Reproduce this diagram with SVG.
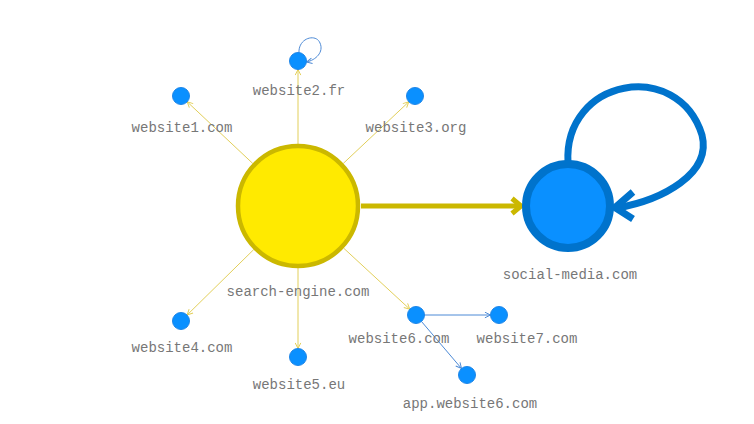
<svg xmlns="http://www.w3.org/2000/svg" width="754" height="424" viewBox="0 0 754 424">
<defs>
<style>
.lbl{font-family:"Liberation Mono","DejaVu Sans Mono",monospace;font-size:14px;fill:#777777;text-anchor:middle}
.small{fill:#0a90ff;stroke:#1f86e8;stroke-width:1}
.ye{stroke:#e2cf5a;stroke-width:1;fill:none;marker-end:url(#ay)}
.be{stroke:#4d8ad6;stroke-width:1;fill:none;marker-end:url(#ab)}
</style>
<marker id="ay" markerUnits="userSpaceOnUse" viewBox="0 0 10 10" refX="9" refY="5" markerWidth="7" markerHeight="7" orient="auto"><path d="M1,1 L9,5 L1,9" fill="none" stroke="#e2cf5a" stroke-width="1.4"/></marker>
<marker id="ab" markerUnits="userSpaceOnUse" viewBox="0 0 10 10" refX="9" refY="5" markerWidth="7" markerHeight="7" orient="auto"><path d="M1,1 L9,5 L1,9" fill="none" stroke="#4d8ad6" stroke-width="1.4"/></marker>
</defs>
<rect width="754" height="424" fill="#ffffff"/>
<g id="connectors">
<line class="ye" x1="252.8" y1="163.5" x2="187.2" y2="101.8"/>
<line class="ye" x1="298" y1="144" x2="298" y2="69.5"/>
<line class="ye" x1="343.2" y1="163.5" x2="408.8" y2="101.8"/>
<line class="ye" x1="253.8" y1="249.5" x2="187.1" y2="315"/>
<line class="ye" x1="298" y1="268" x2="298" y2="348.5"/>
<line class="ye" x1="343.6" y1="248.1" x2="409.8" y2="309.2"/>
<line class="be" x1="424.5" y1="315" x2="490.5" y2="315"/>
<line class="be" x1="421.5" y1="321.5" x2="461.5" y2="368.5"/>
<path class="be" d="M299,53 C298,38 316,33 320,43 C324,52 316,60 306.5,62"/>
<line x1="361" y1="206" x2="520" y2="206" stroke="#cbb800" stroke-width="5"/>
<path d="M512,198.5 L521,206 L512,213.5" fill="none" stroke="#cbb800" stroke-width="5"/>
<path d="M568,163 C563,78 678,58 702,135 C712,174 662,200 617,208" fill="none" stroke="#0073cc" stroke-width="7"/>
<path d="M633,192 L615,207.5 L633,219" fill="none" stroke="#0073cc" stroke-width="7"/>
</g>
<g id="search-engine"><circle cx="298" cy="206" r="60" fill="#ffea00" stroke="#cbb800" stroke-width="4.5"/><text class="lbl" x="298" y="296">search-engine.com</text></g>
<g id="social-media"><circle cx="568" cy="206" r="42" fill="#0a90ff" stroke="#0073cc" stroke-width="8"/><text class="lbl" x="570" y="279">social-media.com</text></g>
<g id="website1"><circle class="small" cx="181" cy="96" r="8.5"/><text class="lbl" x="182" y="132">website1.com</text></g>
<g id="website2"><circle class="small" cx="298" cy="61" r="8.5"/><text class="lbl" x="299" y="95">website2.fr</text></g>
<g id="website3"><circle class="small" cx="415" cy="96" r="8.5"/><text class="lbl" x="416" y="132">website3.org</text></g>
<g id="website4"><circle class="small" cx="181" cy="321" r="8.5"/><text class="lbl" x="182" y="352">website4.com</text></g>
<g id="website5"><circle class="small" cx="298" cy="357" r="8.5"/><text class="lbl" x="299" y="389">website5.eu</text></g>
<g id="website6"><circle class="small" cx="416" cy="315" r="8.5"/><text class="lbl" x="399" y="343">website6.com</text></g>
<g id="website7"><circle class="small" cx="499" cy="315" r="8.5"/><text class="lbl" x="527" y="343">website7.com</text></g>
<g id="app-website6"><circle class="small" cx="467" cy="375" r="8.5"/><text class="lbl" x="470" y="408">app.website6.com</text></g>
</svg>
